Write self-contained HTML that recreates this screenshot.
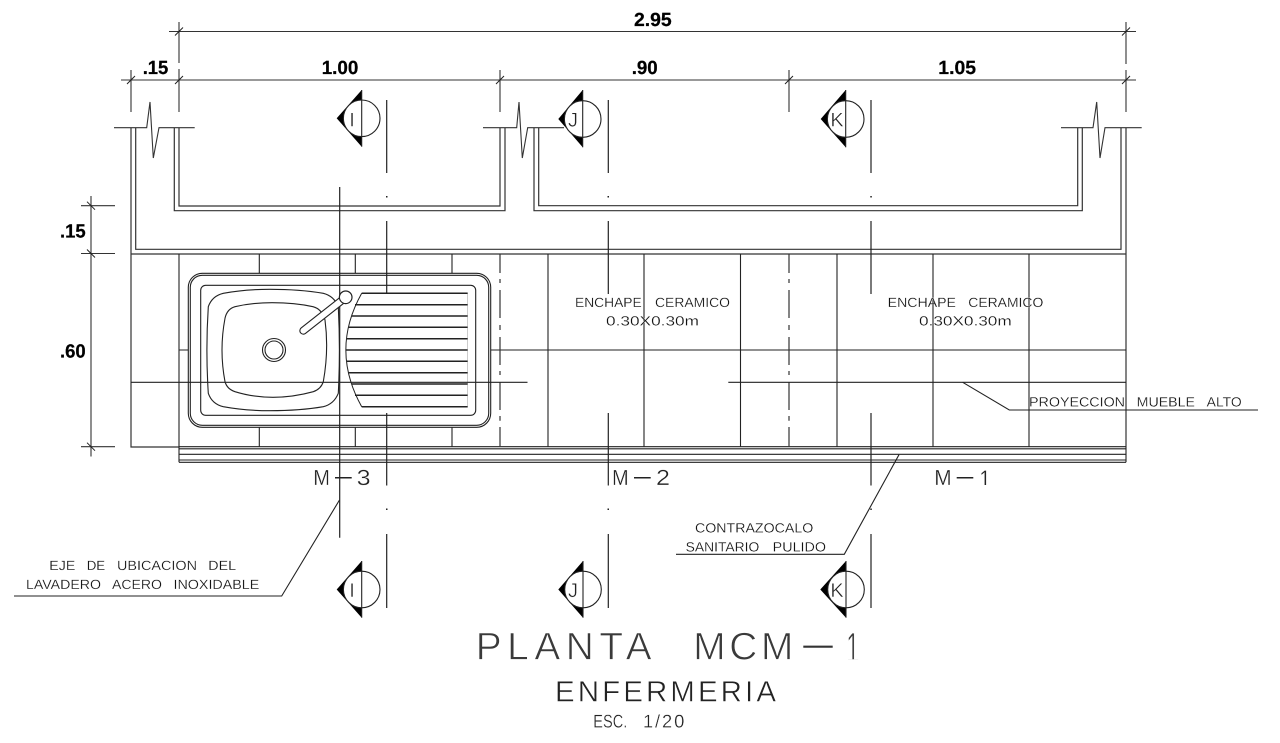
<!DOCTYPE html>
<html lang="es">
<head>
<meta charset="utf-8">
<title>Planta MCM-1</title>
<style>
html,body{margin:0;padding:0;background:#fff;width:1280px;height:743px;overflow:hidden}
svg{display:block}
text{font-family:"Liberation Sans",sans-serif;text-rendering:geometricPrecision}
.d{font-weight:bold;font-size:19px;fill:#000;stroke:#000;stroke-width:.25}
.s{font-size:13.4px;fill:#111;stroke:#fff;stroke-width:.2}
.m{font-size:21.8px;fill:#222;stroke:#fff;stroke-width:.3}
.t{font-size:38.8px;fill:#3a3a3a;stroke:#fff;stroke-width:.8}
.e{font-size:29.5px;fill:#222;stroke:#fff;stroke-width:.5}
.c{font-size:18.4px;fill:#222;stroke:#fff;stroke-width:.3}
.l{font-size:20px;fill:#222;stroke:#fff;stroke-width:.4}
</style>
</head>
<body>
<svg width="1280" height="743" viewBox="0 0 1280 743" xmlns="http://www.w3.org/2000/svg">
<defs>
<clipPath id="c1"><rect x="840" y="625" width="25" height="34.3"/></clipPath>
<clipPath id="c2"><rect x="975" y="465" width="20" height="20"/></clipPath>
</defs>
<rect width="1280" height="743" fill="#fff"/>

<!-- dimension lines -->
<g fill="none" stroke="#333" stroke-width="1.1">
<path d="M169 31.5H1136M121 80H1136"/>
<path d="M179 22V63M179 69V112M1126 22V64M1126 70V112M131 70V112M500 70V112M789 70V112"/>
<path d="M91 196V456.5M81 205.7H115M81 253.5H115M81 446.7H115"/>
</g>
<g fill="none" stroke="#222" stroke-width="1">
<path d="M175 35.5L183 27.5M1122 35.5L1130 27.5M127 84L135 76M175 84L183 76M496 84L504 76M785 84L793 76M1122 84L1130 76"/>
<path d="M87 201.7L95 209.7M87 249.5L95 257.5M87 442.7L95 450.7"/>
</g>

<!-- break lines -->
<g fill="none" stroke="#333" stroke-width="1.1">
<path d="M114 127.7H146.7L150 102L153.3 158L159 127.7H194.7"/>
<path d="M483 127.7H516.7L519 102L522.3 158L527.7 127.7H564"/>
<path d="M1061 127.7H1093L1096.7 102L1100 158L1105 127.7H1141.7"/>
</g>

<!-- walls -->
<g fill="none" stroke="#333" stroke-width="1.2">
<path d="M174.3 128V210.7H505V128M179 128V206H500V128"/>
<path d="M534 128V210.7H1082.3V128M538.7 128V205.7H1077.7V128"/>
<path d="M135.7 128V249.3H1121V128"/>
<path d="M131 128V447H179M1126 128V462.3M131 254H1126"/>
</g>

<!-- tiles -->
<g fill="none" stroke="#222" stroke-width="1.1">
<path d="M179 254V462.3M548 254V447M644 254V447M740.5 254V447M837 254V447M933 254V447M1029 254V447"/>
<path d="M259.3 254V273.3M355.3 254V273.3M452 254V273.3M259.3 427.3V447M355.3 427.3V447M452 427.3V447"/>
<path d="M179 350H188.3M490.7 350H1126"/>
<path d="M179 446.7H1126M179 448.8H1126M179 454.3H1126M179 460H1126M179 462.3H1126"/>
</g>
<g fill="none" stroke="#333" stroke-width="1.2">
<path d="M500 254V273M500 279V283M500 290V318M500 325V330M500 337V365M500 371V375M500 382V410M500 416V420.7M500 427V447"/>
<path d="M789 254V273M789 279V283M789 290V318M789 325V330M789 337V365M789 371V375M789 382V410M789 416V420.7M789 427V447"/>
</g>

<!-- sink -->
<g fill="#fff" stroke="#222" stroke-width="1.1">
<rect x="188.3" y="273.3" width="302.4" height="154" rx="14"/>
<rect x="190.3" y="275.3" width="298.4" height="150" rx="12" fill="none"/>
<rect x="200.7" y="285.3" width="275" height="130" rx="5"/>
<path d="M270 289.3Q300 289.3 323.3 293.3Q334 296 338.3 306.7Q340.5 350 338.3 393.3Q334 404 323.3 406.7Q300 410.7 270 410.7Q245 410.7 223.3 406.7Q212 404 208.3 393.3Q205.5 350 208.3 306.7Q212 296 223.3 293.3Q245 289.3 270 289.3Z"/>
<path d="M272 302.7Q295 302.7 313 306.7Q322 309 325 320Q329 350 323.3 381.7Q321 389 313.3 391.7Q293 397.3 273 397.3Q253 397.3 235 391.7Q227 389 225 381.7Q219 350 225 318.3Q227 309 235 306.7Q252 302.7 272 302.7Z"/>
<circle cx="274" cy="350" r="11.5"/>
<circle cx="274" cy="350" r="9"/>
</g>
<g fill="none" stroke="#222" stroke-width="1.5">
<path d="M361.7 293.3H467.7M355 304.7H467.7M351.7 316H467.7M348.3 327.3H467.7M346.7 338.7H467.7M346 350H467.7M346.7 361.3H467.7M348.3 372.7H467.7M351.7 384H467.7M355 395.3H467.7M361.7 406.7H467.7"/>
</g>
<path d="M361.7 293.3Q330 350 361.7 406.7" fill="none" stroke="#222" stroke-width="1"/>
<path d="M467.7 293.3V406.7" fill="none" stroke="#999" stroke-width=".5"/>

<!-- projection line over the sink -->
<path d="M131 382.3H527.5M728.3 382.3H1126" fill="none" stroke="#222" stroke-width="1.1"/>

<!-- section axis lines -->
<g fill="none" stroke="#222" stroke-width="1.2">
<path d="M339.7 187V537.7"/>
<path d="M386.7 100V173M386.7 221V294M386.7 413V485.5M386.7 534V608"/>
<path d="M608.3 100V173M608.3 221V294M608.3 413V485.5M608.3 534V608"/>
<path d="M871 100V173M871 221V294M871 413V485.5M871 534V608"/>
</g>
<g fill="#222">
<rect x="386" y="196" width="1.5" height="1.5"/><rect x="607.5" y="196" width="1.5" height="1.5"/><rect x="870.3" y="196" width="1.5" height="1.5"/>
<rect x="386" y="508.5" width="1.5" height="1.5"/><rect x="607.5" y="508.5" width="1.5" height="1.5"/><rect x="870.3" y="508.5" width="1.5" height="1.5"/>
</g>

<!-- faucet (drawn above axis) -->
<path d="M303.3 330.7L345.7 297.3" stroke="#222" stroke-width="8" stroke-linecap="round" fill="none"/>
<path d="M303.3 330.7L345.7 297.3" stroke="#fff" stroke-width="5.8" stroke-linecap="round" fill="none"/>
<circle cx="345.7" cy="297.3" r="6.3" fill="#fff" stroke="#222" stroke-width="1.2"/>

<!-- section markers -->
<g>
<path d="M336.7 118.3L361.7 90V146.7Z" fill="#000"/><circle cx="361.7" cy="118.3" r="18.3" fill="#fff" stroke="#222" stroke-width="1.1"/><path d="M361.7 90V146.7" stroke="#222" stroke-width="1.1"/>
<path d="M558.3 119L582.7 90V147.3Z" fill="#000"/><circle cx="582.7" cy="119" r="18.3" fill="#fff" stroke="#222" stroke-width="1.1"/><path d="M582.7 90V147.3" stroke="#222" stroke-width="1.1"/>
<path d="M820.7 119L845.7 90V147.3Z" fill="#000"/><circle cx="845.7" cy="119" r="18.3" fill="#fff" stroke="#222" stroke-width="1.1"/><path d="M845.7 90V147.3" stroke="#222" stroke-width="1.1"/>
<path d="M336.7 589.5L361.7 561V617.7Z" fill="#000"/><circle cx="361.7" cy="589.5" r="18.3" fill="#fff" stroke="#222" stroke-width="1.1"/><path d="M361.7 561V617.7" stroke="#222" stroke-width="1.1"/>
<path d="M558.3 589.5L583 561V617.7Z" fill="#000"/><circle cx="583" cy="589.5" r="18.3" fill="#fff" stroke="#222" stroke-width="1.1"/><path d="M583 561V617.7" stroke="#222" stroke-width="1.1"/>
<path d="M820.3 589.5L846 561V617.7Z" fill="#000"/><circle cx="846" cy="589.5" r="18.3" fill="#fff" stroke="#222" stroke-width="1.1"/><path d="M846 561V617.7" stroke="#222" stroke-width="1.1"/>
</g>
<text class="l" x="352" y="126.3" text-anchor="middle">I</text>
<text class="l" x="573" y="126.3" text-anchor="middle">J</text>
<text class="l" x="837" y="126.3" text-anchor="middle">K</text>
<text class="l" x="352" y="597" text-anchor="middle">I</text>
<text class="l" x="573" y="597" text-anchor="middle">J</text>
<text class="l" x="837" y="597" text-anchor="middle">K</text>

<!-- leaders -->
<g fill="none" stroke="#222" stroke-width="1.1">
<path d="M339.5 500L281.7 596H14"/>
<path d="M899 454.7L844.3 554.3H676"/>
<path d="M962.7 382.3L1009.3 410H1258"/>
</g>

<!-- dimension text -->
<text class="d" x="634" y="26" textLength="37.7" lengthAdjust="spacingAndGlyphs">2.95</text>
<text class="d" x="142.7" y="74" textLength="25.6" lengthAdjust="spacingAndGlyphs">.15</text>
<text class="d" x="321.7" y="74" textLength="36.6" lengthAdjust="spacingAndGlyphs">1.00</text>
<text class="d" x="631.7" y="74" textLength="26" lengthAdjust="spacingAndGlyphs">.90</text>
<text class="d" x="938.3" y="74" textLength="37.7" lengthAdjust="spacingAndGlyphs">1.05</text>
<text class="d" x="60" y="237.7" textLength="25.7" lengthAdjust="spacingAndGlyphs">.15</text>
<text class="d" x="60" y="357.7" textLength="25.7" lengthAdjust="spacingAndGlyphs">.60</text>

<!-- notes -->
<text class="s" x="575" y="307" textLength="66.7" lengthAdjust="spacingAndGlyphs">ENCHAPE</text>
<text class="s" x="655" y="307" textLength="75" lengthAdjust="spacingAndGlyphs">CERAMICO</text>
<text class="s" x="606" y="325.7" textLength="93" lengthAdjust="spacingAndGlyphs">0.30X0.30m</text>
<text class="s" x="887.7" y="307" textLength="68.3" lengthAdjust="spacingAndGlyphs">ENCHAPE</text>
<text class="s" x="968.3" y="307" textLength="75" lengthAdjust="spacingAndGlyphs">CERAMICO</text>
<text class="s" x="919" y="325.7" textLength="92.7" lengthAdjust="spacingAndGlyphs">0.30X0.30m</text>
<text class="s" x="1029" y="406.7" textLength="96" lengthAdjust="spacingAndGlyphs">PROYECCION</text>
<text class="s" x="1136.7" y="406.7" textLength="58.3" lengthAdjust="spacingAndGlyphs">MUEBLE</text>
<text class="s" x="1206.7" y="406.7" textLength="35" lengthAdjust="spacingAndGlyphs">ALTO</text>
<text class="s" x="695" y="532.7" textLength="118.3" lengthAdjust="spacingAndGlyphs">CONTRAZOCALO</text>
<text class="s" x="685.7" y="551.3" textLength="73.6" lengthAdjust="spacingAndGlyphs">SANITARIO</text>
<text class="s" x="772.7" y="551.3" textLength="53.3" lengthAdjust="spacingAndGlyphs">PULIDO</text>
<text class="s" x="49.3" y="570" textLength="26" lengthAdjust="spacingAndGlyphs">EJE</text>
<text class="s" x="86.7" y="570" textLength="18.5" lengthAdjust="spacingAndGlyphs">DE</text>
<text class="s" x="117" y="570" textLength="80" lengthAdjust="spacingAndGlyphs">UBICACION</text>
<text class="s" x="208.3" y="570" textLength="27.7" lengthAdjust="spacingAndGlyphs">DEL</text>
<text class="s" x="26" y="589" textLength="75" lengthAdjust="spacingAndGlyphs">LAVADERO</text>
<text class="s" x="112" y="589" textLength="50" lengthAdjust="spacingAndGlyphs">ACERO</text>
<text class="s" x="173.5" y="589" textLength="85.8" lengthAdjust="spacingAndGlyphs">INOXIDABLE</text>

<!-- M labels -->
<text class="m" x="313.3" y="485" textLength="16.7" lengthAdjust="spacingAndGlyphs">M</text>
<path d="M335 477.7H351.7" stroke="#222" stroke-width="1.5"/>
<text class="m" x="356.7" y="485" textLength="14" lengthAdjust="spacingAndGlyphs">3</text>
<text class="m" x="612" y="485" textLength="16.7" lengthAdjust="spacingAndGlyphs">M</text>
<path d="M634 477.7H650.7" stroke="#222" stroke-width="1.5"/>
<text class="m" x="656" y="485" textLength="14" lengthAdjust="spacingAndGlyphs">2</text>
<text class="m" x="934.3" y="485" textLength="17.4" lengthAdjust="spacingAndGlyphs">M</text>
<path d="M956.7 477.7H973.3" stroke="#222" stroke-width="1.5"/>
<g clip-path="url(#c2)"><text class="m" style="font-size:24px" x="979.5" y="487" textLength="11" lengthAdjust="spacingAndGlyphs">1</text></g>

<!-- titles -->
<text class="t" x="475.7" y="659.3" textLength="176" lengthAdjust="spacing">PLANTA</text>
<text class="t" x="693.3" y="659.3" textLength="100" lengthAdjust="spacing">MCM</text>
<path d="M803.3 646.7H832.7" stroke="#333" stroke-width="2.2"/>
<g clip-path="url(#c1)"><text class="t" style="font-size:43px" x="846.2" y="662.5" textLength="13" lengthAdjust="spacingAndGlyphs">1</text></g>
<text class="e" x="555" y="701.3" textLength="221" lengthAdjust="spacing">ENFERMERIA</text>
<text class="c" x="593.3" y="727.7" textLength="34" lengthAdjust="spacingAndGlyphs">ESC.</text>
<text class="c" x="643" y="727.7" textLength="41.3" lengthAdjust="spacing">1/20</text>
</svg>
</body>
</html>
